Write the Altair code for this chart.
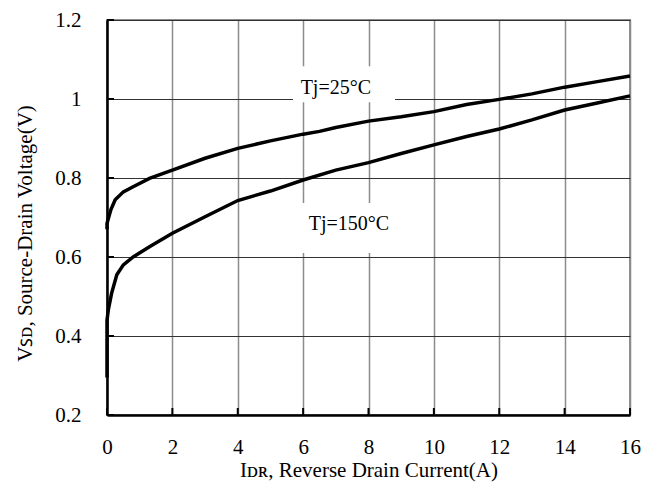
import altair as alt
import pandas as pd

# Data
i_25 = [0.0, 0.0, 0.05, 0.12, 0.25, 0.5, 0.8, 1.3, 2.0, 3.0, 4.0, 5.0, 6.0, 6.5, 7.0, 8.0, 9.0, 10.0, 11.0, 12.0, 13.0, 14.0, 15.0, 16.0]
v_25 = [0.67, 0.685, 0.70, 0.72, 0.745, 0.765, 0.778, 0.799, 0.82, 0.85, 0.875, 0.894, 0.911, 0.918, 0.928, 0.944, 0.955, 0.968, 0.986, 0.999, 1.013, 1.03, 1.044, 1.058]

i_150 = [0.0, 0.0, 0.04, 0.14, 0.3, 0.5, 0.8, 1.3, 2.0, 3.0, 4.0, 5.0, 6.0, 7.0, 8.0, 9.0, 10.0, 11.0, 12.0, 13.0, 14.0, 15.0, 16.0]
v_150 = [0.295, 0.44, 0.466, 0.508, 0.555, 0.58, 0.60, 0.626, 0.66, 0.702, 0.743, 0.767, 0.795, 0.82, 0.839, 0.862, 0.884, 0.905, 0.924, 0.947, 0.972, 0.99, 1.008]

x_ticks = [0, 2, 4, 6, 8, 10, 12, 14, 16]
y_ticks = [0.2, 0.4, 0.6, 0.8, 1.0, 1.2]

label_text = ["Tj=25°C", "Tj=150°C"]
label_x = [7.0, 7.4]
label_y = [1.027, 0.684]
box_x1 = [5.69, 5.84]
box_x2 = [8.81, 8.72]
box_y1 = [0.992, 0.61]
box_y2 = [1.083, 0.737]

FONT = "Liberation Serif"

rows = []
for k, (a, b) in enumerate(zip(i_25, v_25)):
    rows.append({"I": a, "V": b, "series": "25", "idx": k})
for k, (a, b) in enumerate(zip(i_150, v_150)):
    rows.append({"I": a, "V": b, "series": "150", "idx": k})
curves = pd.DataFrame(rows)

labels = pd.DataFrame({"text": label_text, "x": label_x, "y": label_y,
                       "x1": box_x1, "x2": box_x2, "y1": box_y1, "y2": box_y2})

xscale = alt.Scale(domain=[0, 16], nice=False, zero=False)
yscale = alt.Scale(domain=[0.2, 1.2], nice=False, zero=False)

xaxis = alt.Axis(values=x_ticks, grid=True, gridColor="#8c8c8c", gridWidth=1.5,
                 ticks=False, labelPadding=21, labelFlush=False, labelOverlap=False,
                 domainColor="black", domainWidth=2.5,
                 title="Iᴅʀ, Reverse Drain Current(A)",
                 titleBaseline="alphabetic", titleY=61)
yaxis = alt.Axis(values=y_ticks, format="~g", grid=True, gridColor="#333333", gridWidth=1,
                 ticks=False, labelPadding=26, labelFlush=False, labelOverlap=False,
                 domainColor="black", domainWidth=2.5,
                 title="Vꜱᴅ, Source-Drain Voltage(V)",
                 titleAngle=-90, titleBaseline="alphabetic", titleX=-76, titleY=213,
                 titleAlign="center")

boxes = alt.Chart(labels).mark_rect(color="white").encode(
    x=alt.X("x1:Q", scale=xscale, axis=xaxis),
    x2="x2:Q",
    y=alt.Y("y1:Q", scale=yscale, axis=yaxis),
    y2="y2:Q",
)

lines = alt.Chart(curves).mark_line(strokeWidth=3.5, color="black").encode(
    x=alt.X("I:Q", scale=xscale, axis=xaxis),
    y=alt.Y("V:Q", scale=yscale, axis=yaxis),
    detail="series:N",
    order="idx:Q",
)

texts = alt.Chart(labels).mark_text(font=FONT, fontSize=20, color="black",
                                    align="center", baseline="middle").encode(
    x=alt.X("x:Q", scale=xscale, axis=xaxis),
    y=alt.Y("y:Q", scale=yscale, axis=yaxis),
    text="text:N",
)

xt = alt.Chart(pd.DataFrame({"t": x_ticks})).mark_rule(color="black", strokeWidth=2).encode(
    x=alt.X("t:Q", scale=xscale, axis=xaxis),
    y=alt.value(395),
    y2=alt.value(388),
)
yt = alt.Chart(pd.DataFrame({"t": y_ticks})).mark_rule(color="black", strokeWidth=2).encode(
    y=alt.Y("t:Q", scale=yscale, axis=yaxis),
    x=alt.value(0),
    x2=alt.value(7),
)

chart = alt.layer(boxes, lines, texts, xt, yt).properties(
    width=523, height=395,
    padding={"left": 107, "top": 20, "right": 25, "bottom": 74},
    autosize="none",
    background="white",
).configure_view(
    stroke="#8c8c8c", strokeWidth=2
).configure_axis(
    labelFont=FONT, labelFontSize=21, labelColor="black",
    titleFont=FONT, titleFontSize=21, titleFontWeight="normal", titleColor="black",
).configure_text(font=FONT)

chart.save("out.html", embed_options={"renderer": "svg", "actions": False})
